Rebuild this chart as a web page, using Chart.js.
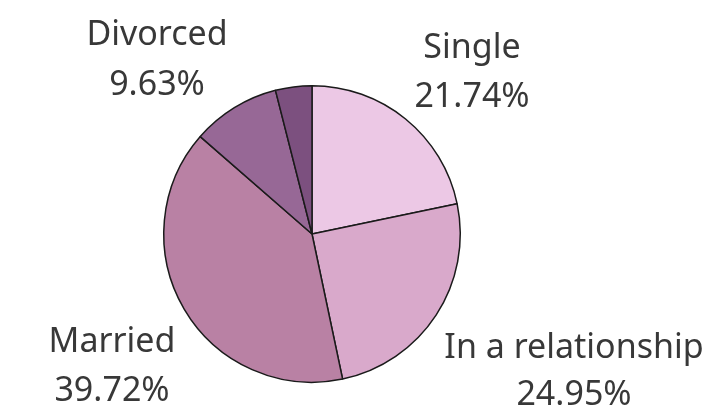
<!DOCTYPE html>
<html>
<head>
<meta charset="utf-8">
<script src="https://cdn.jsdelivr.net/npm/chart.js@4"></script>
<style>
  html, body { margin: 0; padding: 0; background: #fff; }
  #wrap { width: 719px; height: 408px; }
</style>
</head>
<body>
<div id="wrap"><canvas id="pieChart" width="719" height="408"></canvas></div>
<script>
const categories = ['Single', 'In a relationship', 'Married', 'Divorced', 'Other'];
const shares = [21.74, 24.95, 39.72, 9.63, 3.96];
const sliceColors = ['#ecc8e5', '#d9a9cb', '#b981a4', '#976896', '#7c507f'];
// label placement: centre x, baseline of name, baseline of percentage
const labelText = ['Single', 'In a relationship', 'Married', 'Divorced', ''];
const labelPos = [[472, 58, 107], [574, 358, 405], [112, 352, 401], [157, 45, 95], null];

const labelPlugin = {
    id: 'sliceLabels',
    afterDraw(chart) {
        const ctx = chart.ctx;
        ctx.save();
        ctx.font = '34px "Noto Sans"';
        ctx.fillStyle = '#383838';
        ctx.textAlign = 'center';
        ctx.textBaseline = 'alphabetic';
        labelText.forEach((name, i) => {
            if (!name || !labelPos[i]) return;
            const [x, y1, y2] = labelPos[i];
            ctx.fillText(name, x, y1);
            ctx.fillText(shares[i].toFixed(2) + '%', x, y2);
        });
        ctx.restore();
    }
};

const ctx = document.getElementById('pieChart').getContext('2d');
new Chart(ctx, {
    type: 'pie',
    data: {
        labels: categories,
        datasets: [{
            data: shares,
            backgroundColor: sliceColors,
            borderColor: '#1a1a1a',
            borderWidth: 1.5
        }]
    },
    options: {
        responsive: false,
        animation: false,
        layout: { padding: { left: 163, right: 258, top: 85, bottom: 25 } },
        plugins: {
            legend: { display: false },
            tooltip: { enabled: false }
        }
    },
    plugins: [labelPlugin]
});
</script>
</body>
</html>
